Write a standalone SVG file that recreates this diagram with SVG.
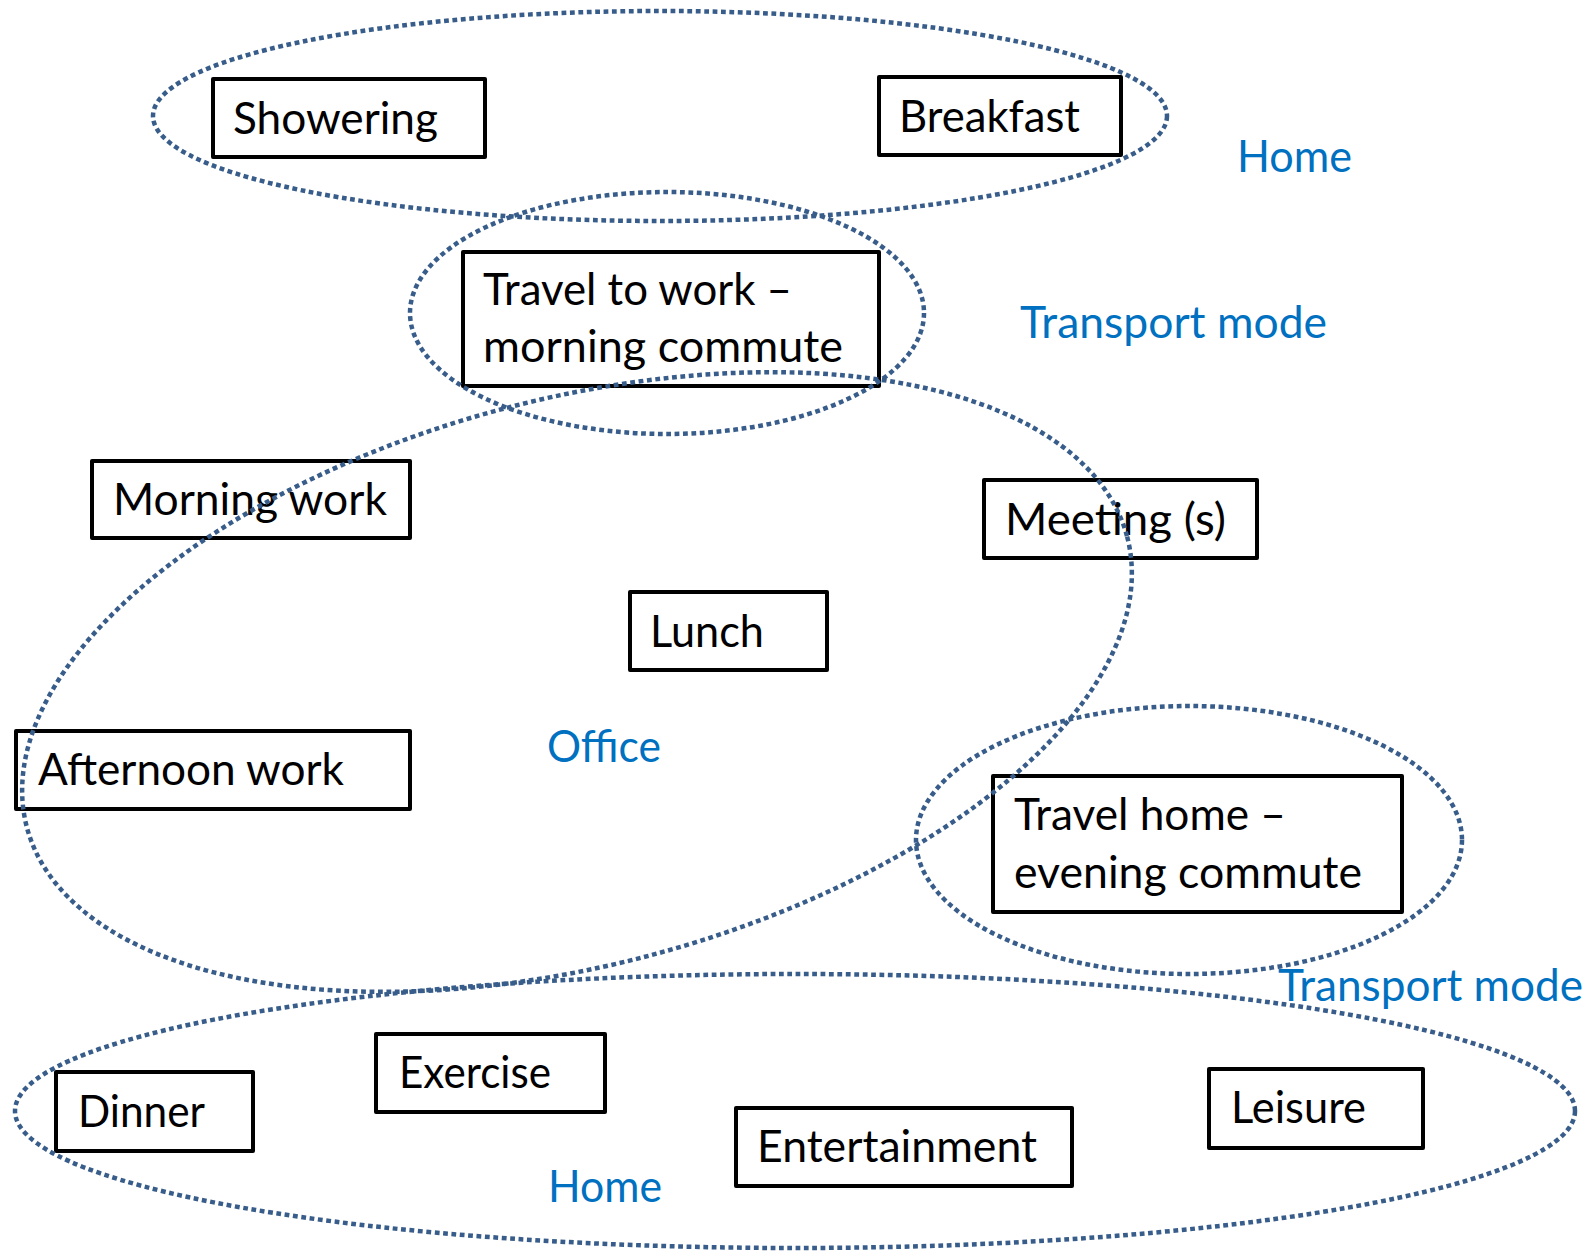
<svg xmlns="http://www.w3.org/2000/svg" width="1591" height="1251" viewBox="0 0 1591 1251">
<style>
  .box rect { fill: #ffffff; stroke: #000000; stroke-width: 4; stroke-linejoin: round; }
  .t { font-family: Lato, "Open Sans", "Liberation Sans", sans-serif; font-size: 44px; fill: #000000; }
  .lbl { font-family: Lato, "Open Sans", "Liberation Sans", sans-serif; font-size: 44px; fill: #0070C0; }
  .region { fill: none; stroke: #385D8A; stroke-width: 4.5; stroke-dasharray: 4.8 3.6; }
</style>
<rect width="1591" height="1251" fill="#ffffff"/>

<g id="node-showering" class="box">
  <rect x="213" y="79" width="272" height="78"/>
  <text class="t" x="233" y="134" textLength="205" lengthAdjust="spacingAndGlyphs">Showering</text>
</g>
<g id="node-breakfast" class="box">
  <rect x="879" y="77" width="242" height="78"/>
  <text class="t" x="899" y="132" textLength="181" lengthAdjust="spacingAndGlyphs">Breakfast</text>
</g>
<g id="node-travel-to-work" class="box">
  <rect x="463" y="252" width="416" height="134"/>
  <text class="t" x="483" y="305" textLength="309" lengthAdjust="spacingAndGlyphs">Travel to work –</text>
  <text class="t" x="483" y="362" textLength="360" lengthAdjust="spacingAndGlyphs">morning commute</text>
</g>
<g id="node-morning-work" class="box">
  <rect x="92" y="461" width="318" height="77"/>
  <text class="t" x="113" y="515" textLength="274" lengthAdjust="spacingAndGlyphs">Morning work</text>
</g>
<g id="node-meetings" class="box">
  <rect x="984" y="480" width="273" height="78"/>
  <text class="t" x="1005" y="535" textLength="221" lengthAdjust="spacingAndGlyphs">Meeting (s)</text>
</g>
<g id="node-lunch" class="box">
  <rect x="630" y="592" width="197" height="78"/>
  <text class="t" x="650" y="647" textLength="114" lengthAdjust="spacingAndGlyphs">Lunch</text>
</g>
<g id="node-afternoon-work" class="box">
  <rect x="16" y="731" width="394" height="78"/>
  <text class="t" x="38" y="785" textLength="306" lengthAdjust="spacingAndGlyphs">Afternoon work</text>
</g>
<g id="node-travel-home" class="box">
  <rect x="993" y="776" width="409" height="136"/>
  <text class="t" x="1014" y="830" textLength="272" lengthAdjust="spacingAndGlyphs">Travel home –</text>
  <text class="t" x="1014" y="888" textLength="348" lengthAdjust="spacingAndGlyphs">evening commute</text>
</g>
<g id="node-dinner" class="box">
  <rect x="56" y="1072" width="197" height="79"/>
  <text class="t" x="78" y="1127" textLength="127" lengthAdjust="spacingAndGlyphs">Dinner</text>
</g>
<g id="node-exercise" class="box">
  <rect x="376" y="1034" width="229" height="78"/>
  <text class="t" x="399" y="1088" textLength="152" lengthAdjust="spacingAndGlyphs">Exercise</text>
</g>
<g id="node-entertainment" class="box">
  <rect x="736" y="1108" width="336" height="78"/>
  <text class="t" x="757" y="1162" textLength="280" lengthAdjust="spacingAndGlyphs">Entertainment</text>
</g>
<g id="node-leisure" class="box">
  <rect x="1209" y="1069" width="214" height="79"/>
  <text class="t" x="1231" y="1123" textLength="135" lengthAdjust="spacingAndGlyphs">Leisure</text>
</g>

<g id="regions">
  <ellipse id="region-home-morning" class="region" cx="660" cy="116" rx="507" ry="105"/>
  <ellipse id="region-transport-morning" class="region" cx="667" cy="313" rx="257" ry="121"/>
  <ellipse id="region-office" class="region" cx="577" cy="682" rx="569" ry="283" transform="rotate(-14.8 577 682)"/>
  <ellipse id="region-transport-evening" class="region" cx="1189" cy="840" rx="273" ry="134"/>
  <ellipse id="region-home-evening" class="region" cx="795" cy="1111" rx="780" ry="137"/>
</g>

<g id="labels">
  <text class="lbl" x="1237" y="172" textLength="115" lengthAdjust="spacingAndGlyphs">Home</text>
  <text class="lbl" x="1020" y="338" textLength="307" lengthAdjust="spacingAndGlyphs">Transport mode</text>
  <text class="lbl" x="547" y="762" textLength="114" lengthAdjust="spacingAndGlyphs">Office</text>
  <text class="lbl" x="1278" y="1001" textLength="305" lengthAdjust="spacingAndGlyphs">Transport mode</text>
  <text class="lbl" x="548" y="1202" textLength="114" lengthAdjust="spacingAndGlyphs">Home</text>
</g>

<g id="connectors"/>
</svg>
